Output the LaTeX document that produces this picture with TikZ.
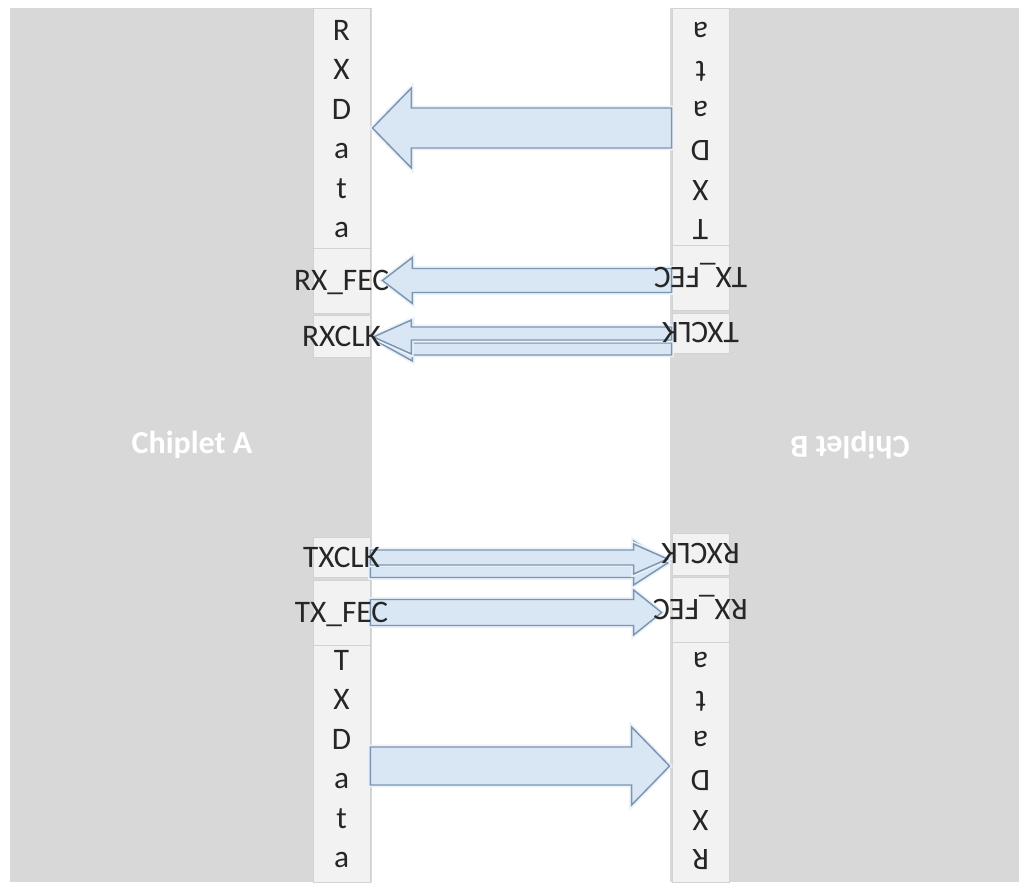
\documentclass[tikz,border=0pt]{standalone}
\usepackage{fontspec}
\setmainfont{Carlito}
\usetikzlibrary{calc,fit}

\definecolor{chipgray}{HTML}{D8D8D8}
\definecolor{pinfill}{HTML}{F2F2F2}
\definecolor{pinline}{HTML}{D2D2D2}
\definecolor{flowfill}{HTML}{D9E7F5}
\definecolor{flowline}{HTML}{7D95B1}
\definecolor{labeltext}{HTML}{262626}

\tikzset{
  chip/.style={fill=chipgray, draw=none, inner sep=0pt},
  pinbox/.style={fill=pinfill, draw=pinline, line width=0.6pt, inner sep=0pt},
  lbl/.style={font=\fontsize{23.5}{28}\selectfont, text=labeltext, inner sep=0pt,
              text height=15.1pt, text depth=0pt},
  chiplabel/.style={font=\fontsize{24}{28}\selectfont\bfseries, text=white, inner sep=0pt},
  flow/.style={fill=flowfill, draw=flowline, line width=1.1pt, line join=miter,
               preaction={draw=flowfill!55, line width=3.5pt}},
}

% block arrow: #1 tail, #2 tip, #3 body half-width, #4 head half-width,
% #5 head length (signed, measured from the tip back towards the tail); units are px
\newcommand\blockarrow[5]{%
  \draw[flow] let \p1=(#1), \p2=(#2) in
    (\x1,{\y1+(#3)*0.75pt}) -- ({\x2+(#5)*0.75pt},{\y1+(#3)*0.75pt})
    -- ({\x2+(#5)*0.75pt},{\y2+(#4)*0.75pt}) -- (\x2,\y2)
    -- ({\x2+(#5)*0.75pt},{\y2-(#4)*0.75pt}) -- ({\x2+(#5)*0.75pt},{\y1-(#3)*0.75pt})
    -- (\x1,{\y1-(#3)*0.75pt}) -- cycle;}

% vertical letter stack: #1 box, #2 vertical shift, #3 step (signed), #4 rotation, #5 letters
\newcommand\letterstack[5]{%
  \foreach \ch [count=\i] in {#5}
    \node[lbl, rotate=#4] (#1-\i) at ($(#1.center)+(0,{#2+(\i-3.5)*(#3)})$) {\ch};}

\begin{document}
\begin{tikzpicture}[x=0.75pt, y=-0.75pt]
\useasboundingbox (0,0) rectangle (1019,884);
\clip (0,0) rectangle (1019,884);
\fill[white] (0,0) rectangle (1019,884);

% the two chiplets
\node[chip, fit={(10,8) (372,882)}] (chipA) {};
\node[chip, fit={(670,8) (1034,882)}] (chipB) {};
\node[chiplabel] (labA) at (192,445) {Chiplet A};
\node[chiplabel, rotate=180] (labB) at (850,445) {Chiplet B};

% pin boxes of chiplet A
\node[pinbox, fit={(313,8) (370,248)}]   (A-rxd)   {};
\node[pinbox, fit={(313,248) (370,313)}] (A-rxfec) {};
\node[pinbox, fit={(313,315) (370,357)}] (A-rxclk) {};
\node[pinbox, fit={(313,537) (370,577)}] (A-txclk) {};
\node[pinbox, fit={(313,580) (370,645)}] (A-txfec) {};
\node[pinbox, fit={(313,645) (370,882)}] (A-txd)   {};

% pin boxes of chiplet B (turned half a circle)
\node[pinbox, fit={(672,8) (729,245)}]   (B-txd)   {};
\node[pinbox, fit={(672,245) (729,310)}] (B-txfec) {};
\node[pinbox, fit={(672,313) (729,353)}] (B-txclk) {};
\node[pinbox, fit={(672,533) (729,575)}] (B-rxclk) {};
\node[pinbox, fit={(672,577) (729,642)}] (B-rxfec) {};
\node[pinbox, fit={(672,642) (729,882)}] (B-rxd)   {};

% end points of the links
\coordinate (dTipA)    at ($(A-rxd.east)+(2,0)$);
\coordinate (dTailA)   at (B-txd.west |- A-rxd.east);
\coordinate (fTipA)    at ($(A-rxfec.east)+(12,0)$);
\coordinate (fTailA)   at (B-txfec.west |- A-rxfec.east);
\coordinate (c1TipA)   at ($(A-rxclk.east)+(3,1)$);
\coordinate (c1TailA)  at ($(B-txclk.west |- A-rxclk.east)+(0,-2.5)$);
\coordinate (c2TipA)   at ($(A-rxclk.east)+(6,5)$);
\coordinate (c2TailA)  at ($(B-txclk.west |- A-rxclk.east)+(0,13)$);

\coordinate (dTailB)   at ($(A-txd.east)+(0,2.5)$);
\coordinate (dTipB)    at ($(B-rxd.west |- A-txd.east)+(-2,2.5)$);
\coordinate (fTailB)   at (A-txfec.east);
\coordinate (fTipB)    at ($(B-rxfec.west |- A-txfec.east)+(-10,0)$);
\coordinate (c1TailB)  at ($(A-txclk.east)+(0,0.5)$);
\coordinate (c1TipB)   at ($(B-rxclk.west |- A-txclk.east)+(-4,2)$);
\coordinate (c2TailB)  at ($(A-txclk.east)+(0,15)$);
\coordinate (c2TipB)   at ($(B-rxclk.west |- A-txclk.east)+(-4,6)$);

% links from B to A
\blockarrow{dTailA}{dTipA}{20}{40}{39}
\blockarrow{fTailA}{fTipA}{12}{23}{30}
\blockarrow{c2TailA}{c2TipA}{6}{20}{36}
\blockarrow{c1TailA}{c1TipA}{6.5}{17}{38}

% links from A to B
\blockarrow{dTailB}{dTipB}{19}{39}{-38}
\blockarrow{fTailB}{fTipB}{13}{22.5}{-28}
\blockarrow{c2TailB}{c2TipB}{5.5}{22}{-34}
\blockarrow{c1TailB}{c1TipB}{7.5}{15}{-34}

% pin names of chiplet A
\letterstack{A-rxd}{0.75}{39.5}{0}{R,X,D,a,t,a}
\node[lbl] (A-rxfec-t) at (A-rxfec.center) {RX\_FEC};
\node[lbl] (A-rxclk-t) at (A-rxclk.center) {RXCLK};
\node[lbl] (A-txclk-t) at (A-txclk.center) {TXCLK};
\node[lbl] (A-txfec-t) at (A-txfec.center) {TX\_FEC};
\letterstack{A-txd}{-4.75}{39.5}{0}{T,X,D,a,t,a}

% pin names of chiplet B
\letterstack{B-txd}{4.75}{-39.5}{180}{T,X,D,a,t,a}
\node[lbl, rotate=180] (B-txfec-t) at (B-txfec.center) {TX\_FEC};
\node[lbl, rotate=180] (B-txclk-t) at (B-txclk.center) {TXCLK};
\node[lbl, rotate=180] (B-rxclk-t) at (B-rxclk.center) {RXCLK};
\node[lbl, rotate=180] (B-rxfec-t) at (B-rxfec.center) {RX\_FEC};
\letterstack{B-rxd}{-0.75}{-39.5}{180}{R,X,D,a,t,a}
\end{tikzpicture}
\end{document}
